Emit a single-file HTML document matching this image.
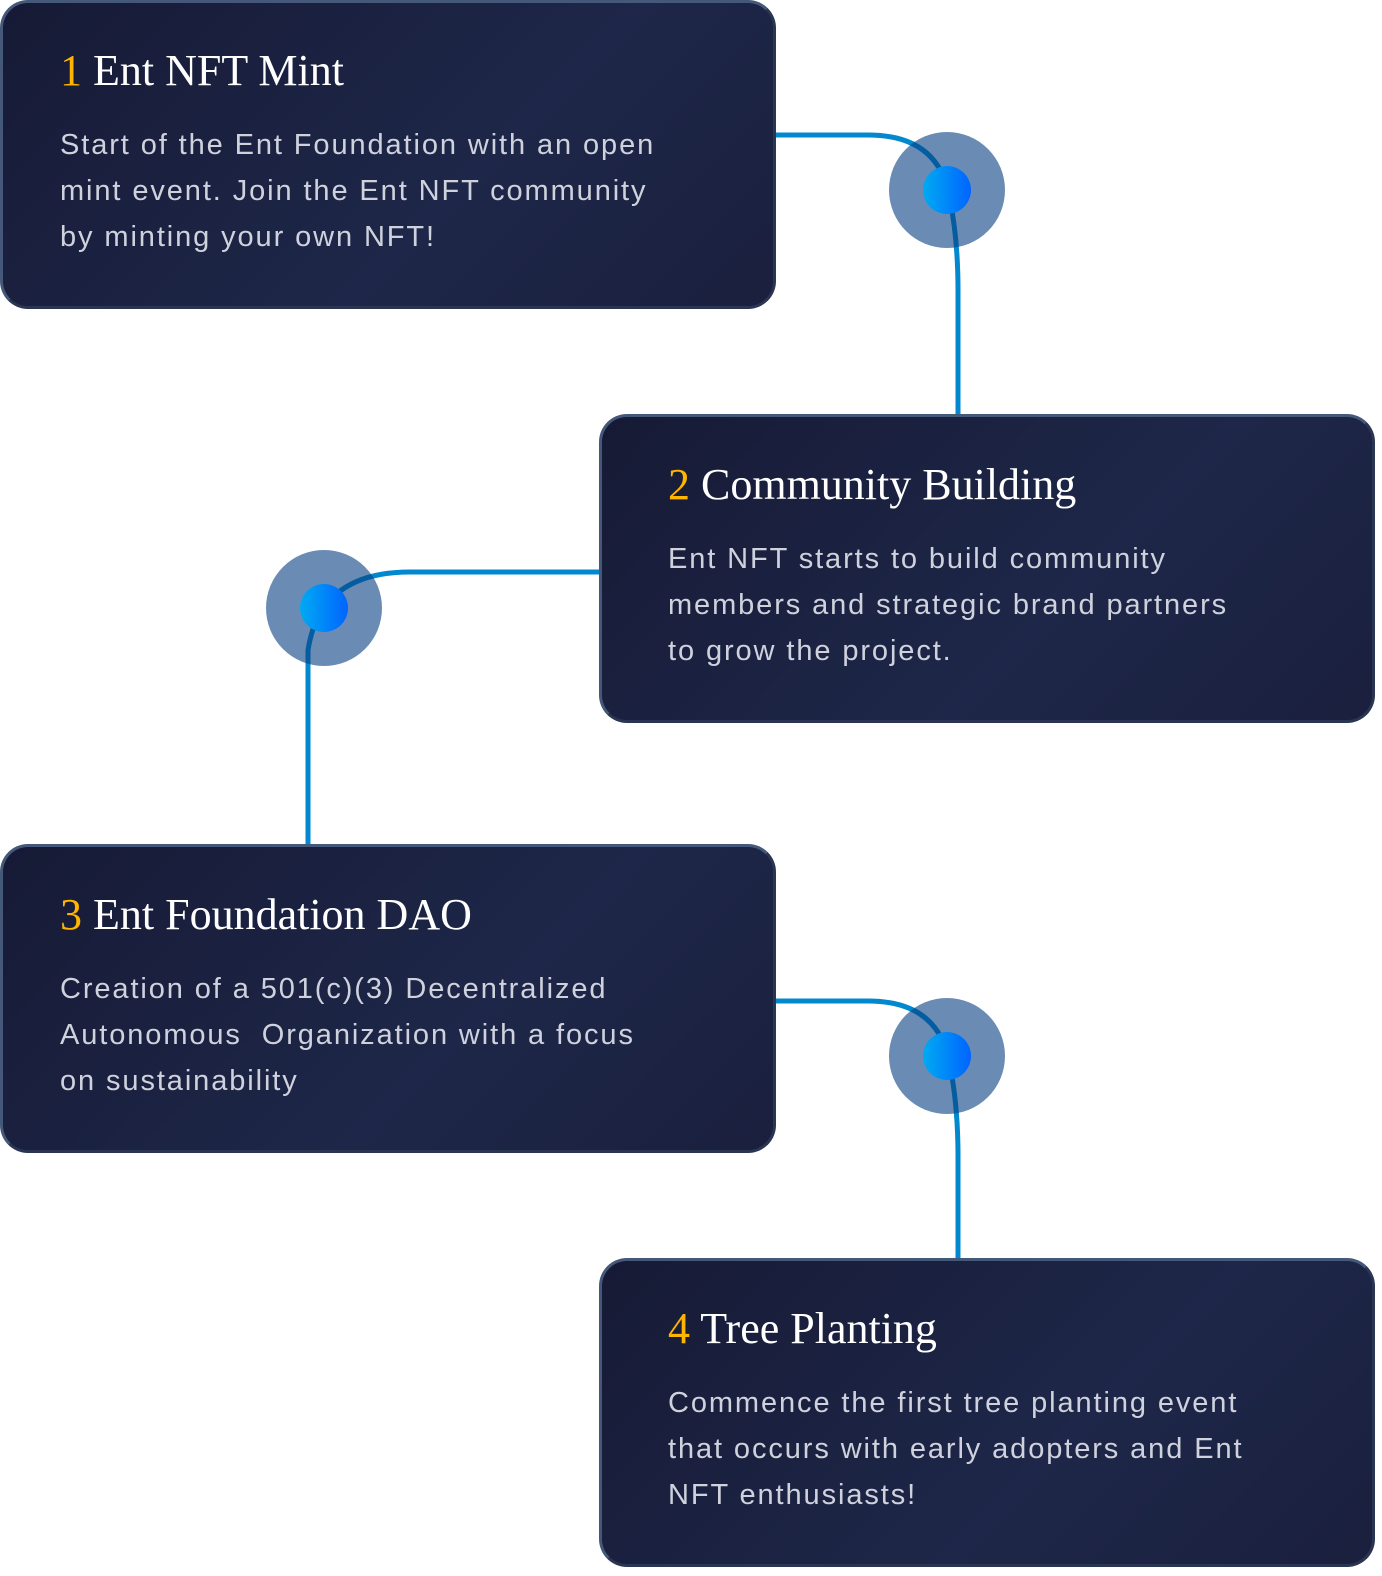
<!DOCTYPE html>
<html><head><meta charset="utf-8"><style>
html,body{margin:0;padding:0;background:#fff;width:1382px;height:1576px;position:relative;overflow:hidden}
.card{position:absolute;width:770px;height:303px;border-radius:28px;border:3px solid #44587a;border-right-color:#2a3552;border-bottom-color:#2a3552;background:linear-gradient(135deg,#161a35 0%,#1e2749 60%,#1a1f3d 100%);box-sizing:content-box}
.t{position:absolute;left:57px;top:42px;font-family:"Liberation Serif",serif;font-size:44px;color:#fff;letter-spacing:0px;white-space:nowrap}
.t b{color:#ffb400;font-weight:normal}
.d{position:absolute;left:57px;top:119px;font-family:"Liberation Sans",sans-serif;font-size:29px;line-height:46px;letter-spacing:1.9px;color:#cfd2dd;white-space:nowrap}
svg{position:absolute;left:0;top:0}
</style></head><body>
<svg width="1382" height="1576">
<defs><linearGradient id="g" x1="0" x2="1"><stop offset="0" stop-color="#00aaf2"/><stop offset="1" stop-color="#0064ff"/></linearGradient></defs>
<g fill="none" stroke="#0288cf" stroke-width="5">
<path d="M770 135 H868 Q940 135 950 200 Q958 240 958 290 V430"/>
<path d="M605 572 H410 Q320 572 308 650 V850"/>
<path d="M770 1001 H868 Q940 1001 950 1066 Q958 1106 958 1156 V1262"/>
</g>
<g fill="#073f82" fill-opacity="0.6">
<circle cx="947" cy="190" r="58"/><circle cx="324" cy="608" r="58"/><circle cx="947" cy="1056" r="58"/>
</g>
<g fill="url(#g)">
<circle cx="947" cy="190" r="24"/><circle cx="324" cy="608" r="24"/><circle cx="947" cy="1056" r="24"/>
</g>
</svg>
<div class="card" style="left:0;top:0"><div class="t"><b>1</b> Ent NFT Mint</div><div class="d">Start of the Ent Foundation with an open<br>mint event. Join the Ent NFT community<br>by minting your own NFT!</div></div>
<div class="card" style="left:599px;top:414px"><div class="t" style="left:66px"><b>2</b> Community Building</div><div class="d" style="left:66px">Ent NFT starts to build community<br>members and strategic brand partners<br>to grow the project.</div></div>
<div class="card" style="left:0;top:844px"><div class="t"><b>3</b> Ent Foundation DAO</div><div class="d">Creation of a 501(c)(3) Decentralized<br>Autonomous &nbsp;Organization with a focus<br>on sustainability</div></div>
<div class="card" style="left:599px;top:1258px"><div class="t" style="left:66px"><b>4</b> Tree Planting</div><div class="d" style="left:66px">Commence the first tree planting event<br>that occurs with early adopters and Ent<br>NFT enthusiasts!</div></div>
</body></html>
